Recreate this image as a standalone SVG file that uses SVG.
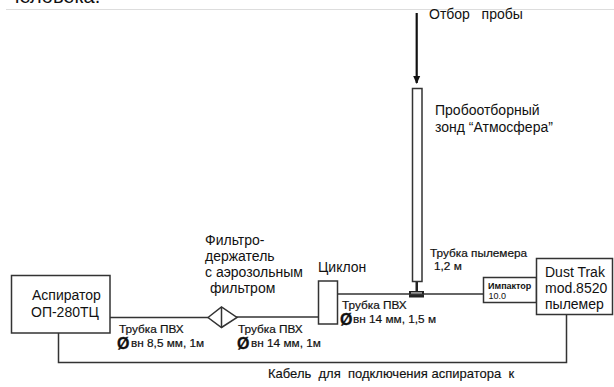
<svg xmlns="http://www.w3.org/2000/svg" width="614" height="387" viewBox="0 0 614 387">
<style>
text{font-family:"Liberation Sans",Arial,sans-serif;fill:#111;white-space:pre}
.b{fill:#fff;stroke:#333;stroke-width:1.5}
.l{fill:none;stroke:#333;stroke-width:1.5}
.t{font-size:14px}
.s{font-size:11.8px;stroke:#111;stroke-width:.2}
.m{font-size:14px}
.o{font-size:16px;font-weight:bold;stroke:#111;stroke-width:.3}
</style>
<defs><marker id="a" markerWidth="8" markerHeight="8" refX="7" refY="4" orient="auto" markerUnits="userSpaceOnUse"><path d="M0 0.500L8 4L0 7.500Z" fill="#111"/></marker></defs>
<rect x="0" y="0" width="614" height="387" fill="#fff"/>
<text x="9" y="3" font-size="20">человека.</text>
<line x1="6" y1="9.500" x2="614" y2="9.500" stroke="#ddd"/>
<g id="connectors">
<line class="l" x1="110" y1="317.500" x2="208" y2="317.500"/>
<line class="l" x1="236" y1="317" x2="318" y2="317"/>
<line class="l" x1="337" y1="294" x2="483" y2="294"/>
<path class="l" d="M58.500 333V362.500H566.500V314"/>
<line x1="416.700" y1="13" x2="416.700" y2="83" stroke="#111" stroke-width="2.200" marker-end="url(#a)"/>
<path d="M415.500 282H418V291H424V297.500H409V291H415.500Z" fill="#222"/><path d="M411 293H422" stroke="#fff" stroke-width="1"/>
<line x1="409" y1="294.500" x2="424" y2="294.500" stroke="#333" stroke-width="1.500"/>
</g>
<g id="aspirator"><rect class="b" x="11.500" y="275.500" width="98.500" height="57.500"/>
<text class="m" x="32" y="300">Аспиратор</text><text class="m" x="31" y="317">ОП-280ТЦ</text></g>
<g id="filter"><path class="b" d="M208 317.500L221.500 307L237 317.500L221.500 327.500Z"/><line class="l" x1="221.500" y1="307" x2="221.500" y2="327.500"/>
<text class="m" x="205" y="245">Фильтро-</text><text class="m" x="205" y="261">держатель</text><text class="m" x="205" y="277">с аэрозольным</text><text class="m" x="210" y="293">фильтром</text></g>
<g id="cyclone"><rect class="b" x="318.500" y="281" width="19" height="43"/><text class="m" x="318" y="272">Циклон</text></g>
<g id="probe"><rect class="b" x="412.500" y="88.500" width="9.500" height="193"/>
<text class="t" x="429" y="19">Отбор   пробы</text>
<text class="t" x="435" y="115">Пробоотборный</text><text class="t" x="435" y="132">зонд “Атмосфера”</text></g>
<g id="impactor"><rect class="b" x="483.500" y="277.500" width="53" height="25"/>
<text x="488" y="289" font-size="9" font-weight="bold">Импактор</text><text x="488.500" y="299" font-size="9">10.0</text></g>
<g id="dusttrak"><rect class="b" x="536.500" y="258.500" width="76" height="56"/>
<text class="m" x="545" y="277">Dust Trak</text><text class="m" x="545" y="293">mod.8520</text><text class="m" x="545" y="309">пылемер</text></g>
<g id="labels">
<text class="s" x="119" y="333">Трубка ПВХ</text>
<text class="o" x="117" y="349">Ø</text><text class="s" x="131" y="347">вн 8,5 мм, 1м</text>
<text class="s" x="238" y="333">Трубка ПВХ</text>
<text class="o" x="237" y="349">Ø</text><text class="s" x="251" y="347">вн 14 мм, 1м</text>
<text class="s" x="342" y="309">Трубка ПВХ</text>
<text class="o" x="340" y="325">Ø</text><text class="s" x="353" y="323">вн 14 мм, 1,5 м</text>
<text class="s" x="430" y="257">Трубка пылемера</text><text class="s" x="434" y="270">1,2 м</text>
<text x="268" y="378" font-size="13" stroke="#111" stroke-width=".15">Кабель  для  подключения аспиратора  к</text>
</g>
</svg>
